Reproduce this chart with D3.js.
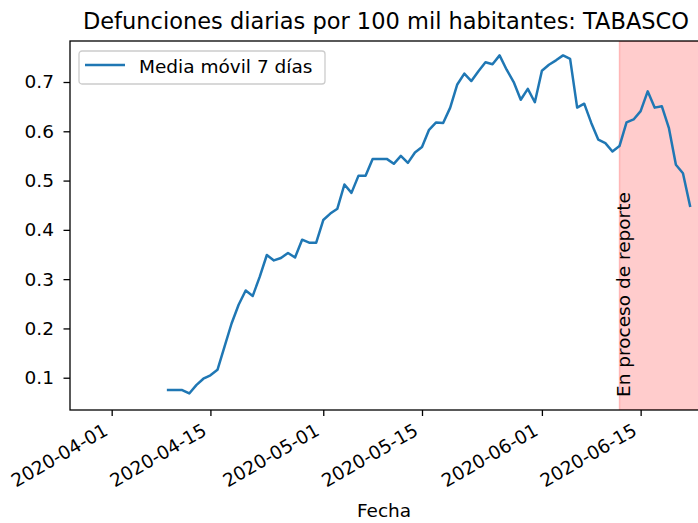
<!DOCTYPE html>
<html>
<head>
<meta charset="utf-8">
<script src="https://cdn.jsdelivr.net/npm/d3@7"></script>
<style>
  body { margin: 0; background: #fff; }
  svg { display: block; font-family: "DejaVu Sans", sans-serif; }
</style>
</head>
<body>
<svg id="viz_area" width="698" height="523"></svg>
<script>
// daily values of the 7 day rolling mean, one per day from first_day
const first_day = "2020-04-09";
const rolling_mean = [
    0.075, 0.075, 0.075, 0.068, 0.085, 0.098, 0.105, 0.116, 0.163, 0.210,
    0.248, 0.277, 0.266, 0.305, 0.349, 0.338, 0.343, 0.353, 0.344, 0.380,
    0.374, 0.374, 0.420, 0.433, 0.443, 0.492, 0.475, 0.510, 0.510, 0.544,
    0.544, 0.544, 0.534, 0.550, 0.536, 0.557, 0.568, 0.603, 0.618, 0.617,
    0.648, 0.695, 0.717, 0.702, 0.722, 0.740, 0.736, 0.754, 0.725, 0.700,
    0.664, 0.686, 0.659, 0.723, 0.735, 0.744, 0.754, 0.747, 0.648, 0.656,
    0.617, 0.583, 0.576, 0.559, 0.570, 0.618, 0.624, 0.641, 0.681, 0.648,
    0.651, 0.607, 0.532, 0.515, 0.449
];
const x_ticks = ["2020-04-01", "2020-04-15", "2020-05-01", "2020-05-15", "2020-06-01", "2020-06-15"];
const y_ticks = [0.1, 0.2, 0.3, 0.4, 0.5, 0.6, 0.7];
const x_limits = ["2020-03-26T02:10:00Z", "2020-06-23T10:00:00Z"];
const y_limits = [0.0345, 0.7832];
const report_span = ["2020-06-12", "2020-06-30"];

const title = "Defunciones diarias por 100 mil habitantes: TABASCO";
const legend_label = "Media móvil 7 días";
const span_label = "En proceso de reporte";
const x_label = "Fecha";

const run = () => {
    const parse_day = d3.utcParse("%Y-%m-%d");
    const start = parse_day(first_day);
    const data = rolling_mean.map((v, i) => ({date: d3.utcDay.offset(start, i), value: v}));

    var margin = {top: 41, left: 70, bottom: 410, right: 700};
    const font_size = 18.5;

    const svg = d3.select("#viz_area");

    const x = d3.scaleUtc()
        .domain(x_limits.map(d => new Date(d)))
        .range([margin.left, margin.right]);
    const y = d3.scaleLinear()
        .domain(y_limits)
        .range([margin.bottom, margin.top]);

    svg.append("defs").append("clipPath")
        .attr("id", "plot_clip")
        .append("rect")
        .attr("x", margin.left)
        .attr("y", margin.top)
        .attr("width", margin.right - margin.left)
        .attr("height", margin.bottom - margin.top);

    const plot = svg.append("g").attr("clip-path", "url(#plot_clip)");

    // shaded "still being reported" zone
    plot.append("rect")
        .attr("x", x(parse_day(report_span[0])))
        .attr("y", margin.top)
        .attr("width", x(parse_day(report_span[1])) - x(parse_day(report_span[0])))
        .attr("height", margin.bottom - margin.top)
        .attr("fill", "red")
        .attr("fill-opacity", 0.2)
        .attr("stroke", "red")
        .attr("stroke-opacity", 0.2)
        .attr("stroke-width", 1.5);

    plot.append("path")
        .datum(data)
        .attr("fill", "none")
        .attr("stroke", "#1f77b4")
        .attr("stroke-width", 2.5)
        .attr("stroke-linejoin", "round")
        .attr("stroke-linecap", "square")
        .attr("d", d3.line().x(d => x(d.date)).y(d => y(d.value)));

    svg.append("text")
        .attr("transform", "translate(" + (x(parse_day(report_span[0])) + 11) + "," + (margin.bottom - 13) + ") rotate(-90)")
        .attr("font-size", font_size)
        .attr("fill", "#000")
        .text(span_label);

    // X axis
    const x_axis = svg.append("g")
        .attr("transform", "translate(0," + margin.bottom + ")")
        .call(d3.axisBottom(x)
            .tickValues(x_ticks.map(parse_day))
            .tickFormat(d3.utcFormat("%Y-%m-%d"))
            .tickSize(6)
            .tickSizeOuter(0));
    x_axis.select(".domain").remove();
    x_axis.selectAll(".tick line").attr("stroke", "#000").attr("stroke-width", 1.3);
    x_axis.selectAll("text")
        .attr("y", 0)
        .attr("dy", 0)
        .attr("font-size", font_size)
        .attr("font-family", "DejaVu Sans")
        .attr("fill", "#000")
        .style("text-anchor", "end")
        .attr("transform", "translate(-3,24) rotate(-30)");

    // Y axis
    const y_axis = svg.append("g")
        .attr("transform", "translate(" + margin.left + ",0)")
        .call(d3.axisLeft(y)
            .tickValues(y_ticks)
            .tickFormat(d3.format(".1f"))
            .tickSize(6.5)
            .tickSizeOuter(0));
    y_axis.select(".domain").remove();
    y_axis.selectAll(".tick line").attr("stroke", "#000").attr("stroke-width", 1.3);
    y_axis.selectAll("text")
        .attr("x", -16)
        .attr("font-size", font_size)
        .attr("font-family", "DejaVu Sans")
        .attr("fill", "#000");

    // spines
    svg.append("rect")
        .attr("x", margin.left)
        .attr("y", margin.top)
        .attr("width", margin.right - margin.left)
        .attr("height", margin.bottom - margin.top)
        .attr("fill", "none")
        .attr("stroke", "#000")
        .attr("stroke-width", 1.3);

    // legend
    const legend = svg.append("g").attr("transform", "translate(79,51)");
    legend.append("rect")
        .attr("width", 246)
        .attr("height", 33)
        .attr("rx", 3)
        .attr("fill", "#fff")
        .attr("fill-opacity", 0.8)
        .attr("stroke", "#ccc")
        .attr("stroke-width", 1.3);
    legend.append("line")
        .attr("x1", 6).attr("x2", 46)
        .attr("y1", 14).attr("y2", 14)
        .attr("stroke", "#1f77b4")
        .attr("stroke-width", 2.5);
    legend.append("text")
        .attr("x", 60)
        .attr("y", 21.5)
        .attr("font-size", font_size)
        .attr("fill", "#000")
        .text(legend_label);

    svg.append("text")
        .attr("x", 386)
        .attr("y", 29)
        .attr("text-anchor", "middle")
        .attr("font-size", 22.5)
        .attr("fill", "#000")
        .text(title);

    svg.append("text")
        .attr("x", 384)
        .attr("y", 517)
        .attr("text-anchor", "middle")
        .attr("font-size", font_size)
        .attr("fill", "#000")
        .text(x_label);
};
window.onload = run;
</script>
</body>
</html>
